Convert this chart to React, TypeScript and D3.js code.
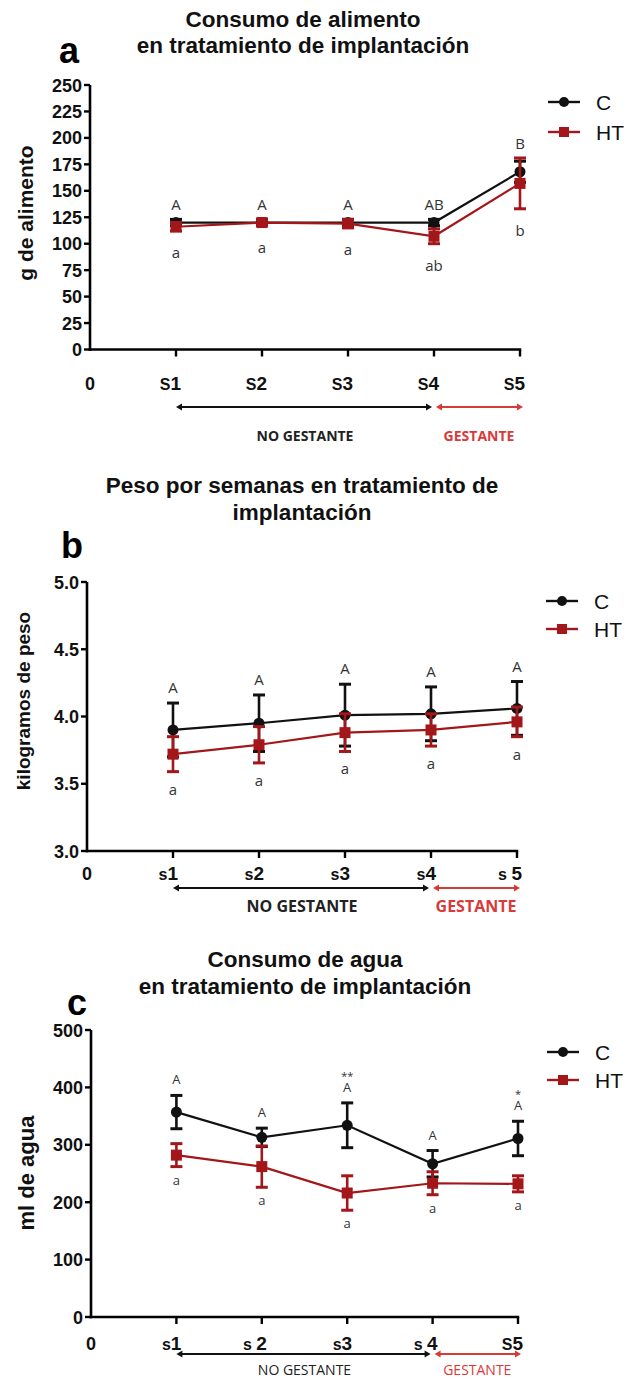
import React from "react";
import * as d3 from "d3";

// Sampling weeks (x = 0 is the axis origin)
const weeks = [1, 2, 3, 4, 5];

// a – food intake (g)
const foodC = [120, 120, 120, 120, 168];
const foodCErr = [3, 2, 3, 3, 10];
const foodHT = [116, 120, 119, 107, 157];
const foodHTErr = [4, 3, 4, 7, 24];
const foodUpper = ["A", "A", "A", "AB", "B"];
const foodLower = ["a", "a", "a", "ab", "b"];
const foodTicks = [0, 25, 50, 75, 100, 125, 150, 175, 200, 225, 250];
const foodXLabels: [string, string][] = [["S", "1"], ["S", "2"], ["S", "3"], ["S", "4"], ["S", "5"]];

// b – body weight (kg)
const weightC = [3.9, 3.95, 4.01, 4.02, 4.06];
const weightCErr = [0.2, 0.21, 0.23, 0.2, 0.2];
const weightHT = [3.72, 3.79, 3.88, 3.9, 3.96];
const weightHTErr = [0.13, 0.135, 0.14, 0.12, 0.11];
const weightUpper = ["A", "A", "A", "A", "A"];
const weightLower = ["a", "a", "a", "a", "a"];
const weightTicks = [3.0, 3.5, 4.0, 4.5, 5.0];
const weightXLabels: [string, string][] = [["s", "1"], ["s", "2"], ["s", "3"], ["s", "4"], ["s ", "5"]];

// c – water intake (ml)
const waterC = [357, 313, 334, 267, 311];
const waterCErr = [29, 16, 39, 23, 30];
const waterHT = [282, 262, 216, 233, 232];
const waterHTErr = [20, 36, 30, 20, 14];
const waterUpper = ["A", "A", "A", "A", "A"];
const waterStars = ["", "", "**", "", "*"];
const waterLower = ["a", "a", "a", "a", "a"];
const waterTicks = [0, 100, 200, 300, 400, 500];
const waterXLabels: [string, string][] = [["s", "1"], ["s ", "2"], ["s", "3"], ["s ", "4"], ["S", "5"]];

const seriesNames = ["C", "HT"];
const periodNames = ["NO GESTANTE", "GESTANTE"];

const BLACK = "#111";
const RED = "#a3161a";
const ARROW_RED = "#d83a3a";
const SANS = "'Liberation Sans', Arial, Helvetica, sans-serif";
const NOTE = "'Open Sans', 'Liberation Sans', sans-serif";

type PanelSpec = {
  letter: string;
  letterPos: [number, number];
  title: string[];
  titleX: number;
  titleY: [number, number];
  yLabel: string;
  yLabelPos: [number, number];
  yLabelSize: number;
  xRange: [number, number];
  yDomain: [number, number];
  yRange: [number, number];
  ticks: number[];
  tickFmt: (v: number) => string;
  xLabels: [string, string][];
  xLabelY: number;
  arrowY: number;
  periodY: number;
  periodSize: number;
  periodWeight: string;
  legend: [number, number, number];
  c: number[];
  cErr: number[];
  ht: number[];
  htErr: number[];
  upper: string[];
  lower: string[];
  stars?: string[];
  offUp: number;
  offDown: number;
  noteSize: number;
};

function Arrow({ x0, x1, y, color }: { x0: number; x1: number; y: number; color: string }) {
  const h = 6;
  const w = 3.5;
  return (
    <g>
      <line x1={x0 + 3} x2={x1 - 3} y1={y} y2={y} stroke={color} strokeWidth={1.8} />
      <polygon points={`${x0},${y} ${x0 + h},${y - w} ${x0 + h},${y + w}`} fill={color} />
      <polygon points={`${x1},${y} ${x1 - h},${y - w} ${x1 - h},${y + w}`} fill={color} />
    </g>
  );
}

function Panel({ p }: { p: PanelSpec }) {
  const x = d3.scaleLinear().domain([0, 5]).range(p.xRange);
  const y = d3.scaleLinear().domain(p.yDomain).range(p.yRange);
  const line = d3
    .line<number>()
    .x((_, i) => x(weeks[i]))
    .y((d) => y(d));
  const y0 = y(p.yDomain[0]);
  const y1 = y(p.yDomain[1]);
  const x0 = x(0);
  const capW = 6;

  const errorBars = (vals: number[], errs: number[], color: string) =>
    vals.map((v, i) => {
      const cx = x(weeks[i]);
      const top = y(v + errs[i]);
      const bot = y(v - errs[i]);
      return (
        <g key={i} stroke={color} strokeWidth={2.6}>
          <line x1={cx} x2={cx} y1={top} y2={bot} />
          <line x1={cx - capW} x2={cx + capW} y1={top} y2={top} strokeWidth={3} />
          <line x1={cx - capW} x2={cx + capW} y1={bot} y2={bot} strokeWidth={3} />
        </g>
      );
    });

  const [lx, lyC, lyHT] = p.legend;
  const xs4 = x(4);
  const xs1 = x(1);
  const xs5 = x(5);

  return (
    <g>
      {/* panel letter and title */}
      <text x={p.letterPos[0]} y={p.letterPos[1]} fontFamily={SANS} fontWeight="bold" fontSize={36} fill="#000">
        {p.letter}
      </text>
      {p.title.map((t, i) => (
        <text
          key={i}
          x={p.titleX}
          y={p.titleY[i]}
          textAnchor="middle"
          fontFamily={SANS}
          fontWeight="bold"
          fontSize={22.5}
          fill="#111"
        >
          {t}
        </text>
      ))}

      {/* y axis */}
      <line x1={x0} x2={x0} y1={y0 + 1.3} y2={y1} stroke="#000" strokeWidth={2.6} />
      {p.ticks.map((t) => (
        <g key={t}>
          <line x1={x0 - 6} x2={x0} y1={y(t)} y2={y(t)} stroke="#000" strokeWidth={2.4} />
          <text
            x={x0 - 8}
            y={y(t) + 6.5}
            textAnchor="end"
            fontFamily={SANS}
            fontWeight="bold"
            fontSize={18}
            fill="#111"
          >
            {p.tickFmt(t)}
          </text>
        </g>
      ))}
      <text
        transform={`translate(${p.yLabelPos[0]},${p.yLabelPos[1]}) rotate(-90)`}
        textAnchor="middle"
        fontFamily={SANS}
        fontWeight="bold"
        fontSize={p.yLabelSize}
        fill="#111"
      >
        {p.yLabel}
      </text>

      {/* x axis */}
      <line x1={x0 - 1.3} x2={xs5 + 1.2} y1={y0} y2={y0} stroke="#000" strokeWidth={2.6} />
      {weeks.map((w) => (
        <line key={w} x1={x(w)} x2={x(w)} y1={y0} y2={y0 + 7} stroke="#000" strokeWidth={2.4} />
      ))}
      <text x={x0} y={p.xLabelY} textAnchor="middle" fontFamily={SANS} fontWeight="bold" fontSize={18} fill="#111">
        0
      </text>
      {p.xLabels.map(([pre, num], i) => (
        <text
          key={i}
          x={x(weeks[i]) + 5}
          y={p.xLabelY}
          textAnchor="end"
          fontFamily={SANS}
          fontWeight="bold"
          fill="#111"
        >
          <tspan fontSize={16}>{pre}</tspan>
          <tspan fontSize={19}>{num}</tspan>
        </text>
      ))}

      {/* pregnancy periods */}
      <Arrow x0={xs1} x1={xs4 - 2} y={p.arrowY} color={BLACK} />
      <Arrow x0={xs4 + 2} x1={xs5 + 3} y={p.arrowY} color={ARROW_RED} />
      <text
        x={(xs1 + xs4) / 2}
        y={p.periodY}
        textAnchor="middle"
        fontFamily={NOTE}
        fontWeight={p.periodWeight}
        fontSize={p.periodSize}
        fill="#222"
      >
        {periodNames[0]}
      </text>
      <text
        x={(xs4 + xs5) / 2 + 2}
        y={p.periodY}
        textAnchor="middle"
        fontFamily={NOTE}
        fontWeight={p.periodWeight}
        fontSize={p.periodSize}
        fill={ARROW_RED}
      >
        {periodNames[1]}
      </text>

      {/* series C */}
      {errorBars(p.c, p.cErr, BLACK)}
      <path d={line(p.c) ?? ""} fill="none" stroke={BLACK} strokeWidth={2.2} />
      {p.c.map((v, i) => (
        <circle key={i} cx={x(weeks[i])} cy={y(v)} r={5.5} fill={BLACK} />
      ))}

      {/* series HT */}
      {errorBars(p.ht, p.htErr, RED)}
      <path d={line(p.ht) ?? ""} fill="none" stroke={RED} strokeWidth={2.2} />
      {p.ht.map((v, i) => (
        <rect key={i} x={x(weeks[i]) - 5.5} y={y(v) - 5.5} width={11} height={11} fill={RED} />
      ))}

      {/* significance letters */}
      {weeks.map((w, i) => {
        const top = y(Math.max(p.c[i] + p.cErr[i], p.ht[i] + p.htErr[i])) - p.offUp;
        const bot = y(Math.min(p.c[i] - p.cErr[i], p.ht[i] - p.htErr[i])) + p.offDown;
        return (
          <g key={w} fontFamily={NOTE} fontSize={p.noteSize} fill="#333" textAnchor="middle">
            <text x={x(w)} y={top}>
              {p.upper[i]}
            </text>
            {p.stars && p.stars[i] ? (
              <text x={x(w)} y={top - 12} fontSize={11}>
                {p.stars[i]}
              </text>
            ) : null}
            <text x={x(w)} y={bot}>
              {p.lower[i]}
            </text>
          </g>
        );
      })}

      {/* legend */}
      <g>
        <line x1={lx} x2={lx + 32} y1={lyC} y2={lyC} stroke={BLACK} strokeWidth={2.4} />
        <circle cx={lx + 16} cy={lyC} r={5} fill={BLACK} />
        <text x={lx + 48} y={lyC + 7.5} fontFamily={SANS} fontSize={21} fill="#111">
          {seriesNames[0]}
        </text>
        <line x1={lx} x2={lx + 32} y1={lyHT} y2={lyHT} stroke={RED} strokeWidth={2.4} />
        <rect x={lx + 11} y={lyHT - 5} width={10} height={10} fill={RED} />
        <text x={lx + 48} y={lyHT + 7.5} fontFamily={SANS} fontSize={21} fill="#111">
          {seriesNames[1]}
        </text>
      </g>
    </g>
  );
}

const fmtInt = (v: number) => d3.format("d")(v);
const fmtOne = (v: number) => d3.format(".1f")(v);

const panels: PanelSpec[] = [
  {
    letter: "a",
    letterPos: [59, 63],
    title: ["Consumo de alimento", "en tratamiento de implantación"],
    titleX: 303,
    titleY: [27, 53],
    yLabel: "g de alimento",
    yLabelPos: [33, 213],
    yLabelSize: 21,
    xRange: [90, 520],
    yDomain: [0, 250],
    yRange: [349.5, 85],
    ticks: foodTicks,
    tickFmt: fmtInt,
    xLabels: foodXLabels,
    xLabelY: 390,
    arrowY: 407,
    periodY: 441,
    periodSize: 14,
    periodWeight: "bold",
    legend: [548, 102, 132],
    c: foodC,
    cErr: foodCErr,
    ht: foodHT,
    htErr: foodHTErr,
    upper: foodUpper,
    lower: foodLower,
    offUp: 9,
    offDown: 27,
    noteSize: 15,
  },
  {
    letter: "b",
    letterPos: [61, 558],
    title: ["Peso por semanas en tratamiento de", "implantación"],
    titleX: 302,
    titleY: [493, 520],
    yLabel: "kilogramos de peso",
    yLabelPos: [30, 701],
    yLabelSize: 19,
    xRange: [87, 517],
    yDomain: [3, 5],
    yRange: [851, 582],
    ticks: weightTicks,
    tickFmt: fmtOne,
    xLabels: weightXLabels,
    xLabelY: 880,
    arrowY: 888,
    periodY: 912,
    periodSize: 16,
    periodWeight: "bold",
    legend: [546, 601, 629],
    c: weightC,
    cErr: weightCErr,
    ht: weightHT,
    htErr: weightHTErr,
    upper: weightUpper,
    lower: weightLower,
    offUp: 10,
    offDown: 23,
    noteSize: 15,
  },
  {
    letter: "c",
    letterPos: [67, 1015],
    title: ["Consumo de agua", "en tratamiento de implantación"],
    titleX: 305,
    titleY: [967, 994],
    yLabel: "ml de agua",
    yLabelPos: [34, 1173],
    yLabelSize: 22,
    xRange: [91, 518],
    yDomain: [0, 500],
    yRange: [1317, 1030],
    ticks: waterTicks,
    tickFmt: fmtInt,
    xLabels: waterXLabels,
    xLabelY: 1350,
    arrowY: 1354,
    periodY: 1375,
    periodSize: 14,
    periodWeight: "normal",
    legend: [547, 1052, 1080],
    c: waterC,
    cErr: waterCErr,
    ht: waterHT,
    htErr: waterHTErr,
    upper: waterUpper,
    lower: waterLower,
    stars: waterStars,
    offUp: 11,
    offDown: 18,
    noteSize: 13,
  },
];

export default function App() {
  return (
    <svg
      width={629}
      height={1380}
      viewBox="0 0 629 1380"
      style={{ position: "absolute", left: 0, top: 0, background: "#fff" }}
    >
      <rect width={629} height={1380} fill="#fff" />
      {panels.map((p) => (
        <Panel key={p.letter} p={p} />
      ))}
    </svg>
  );
}
